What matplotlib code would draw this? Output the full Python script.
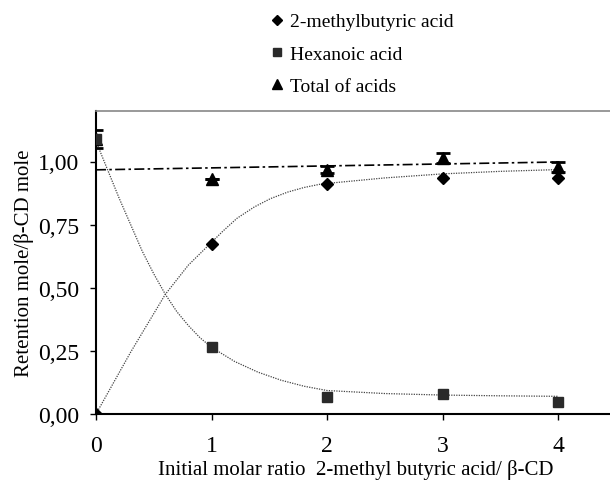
import matplotlib
matplotlib.use("Agg")
import matplotlib.pyplot as plt
from matplotlib.lines import Line2D
from matplotlib.ticker import FuncFormatter

plt.rcParams['font.family'] = ['Liberation Serif', 'DejaVu Serif']

# measured points
ratio = [0, 1, 2, 3, 4]
methylbutyric = [0.0, 0.672, 0.909, 0.936, 0.936]
hexanoic = [1.09, 0.265, 0.067, 0.079, 0.047]
total = [1.09, 0.929, 0.968, 1.014, 0.978]
total_err = [0.035, 0.0, 0.015, 0.02, 0.02]

# fitted curves
methyl_fit_x = [0, 0.3, 0.6, 0.8, 1.0, 1.1, 1.22, 1.37, 1.51, 1.66, 1.8, 1.95, 2.5, 3.0, 3.5, 4.0]
methyl_fit_y = [0.0, 0.245, 0.474, 0.59, 0.68, 0.725, 0.775, 0.82, 0.853, 0.879, 0.897, 0.911, 0.935, 0.951, 0.961, 0.968]
hexan_fit_x = [0, 0.2, 0.4, 0.5, 0.6, 0.7, 0.8, 0.9, 1.0, 1.2, 1.4, 1.6, 1.8, 2.0, 2.5, 3.0, 3.5, 4.0]
hexan_fit_y = [1.08, 0.855, 0.645, 0.555, 0.474, 0.405, 0.35, 0.302, 0.264, 0.208, 0.166, 0.134, 0.11, 0.093, 0.081, 0.075, 0.072, 0.07]

# linear trend of the total
trend_x = [0, 4]
trend_y = [0.967, 0.998]

fig = plt.figure(figsize=(6.1, 4.81), dpi=100)
ax = fig.add_axes([96 / 610, 66 / 481, 520 / 610, 303 / 481])

ax.plot(methyl_fit_x, methyl_fit_y, linestyle=(0, (1, 1)), color='#444444', lw=0.9)
ax.plot(hexan_fit_x, hexan_fit_y, linestyle=(0, (1, 1)), color='#444444', lw=0.9)
ax.plot(trend_x, trend_y, linestyle=(0, (6, 2, 1.5, 2)), color='black', lw=1.2)

ax.errorbar(ratio, total, yerr=total_err, fmt='^', color='black', ms=8,
            capsize=5, elinewidth=1.2, capthick=2, zorder=3)
ax.plot(ratio, hexanoic, 's', color='#2a2a2a', ms=7, zorder=4)
ax.plot(ratio, methylbutyric, 'D', color='black', ms=6, zorder=5)

ax.set_xlim(0, 4.5)
ax.set_ylim(0, 1.2)
ax.set_xticks([0, 1, 2, 3, 4])
ax.set_yticks([0, 0.25, 0.5, 0.75, 1.0])
ax.yaxis.set_major_formatter(FuncFormatter(lambda v, p: f"{v:.2f}".replace('.', ',')))
ax.tick_params(axis='both', direction='out', labelsize=17, width=1, length=4)
ax.tick_params(axis='y', pad=8)
ax.tick_params(axis='x', pad=11)

ax.spines['left'].set_linewidth(1.5)
ax.spines['bottom'].set_linewidth(1.5)
ax.spines['top'].set_color('#888888')
ax.spines['top'].set_linewidth(1.2)
ax.spines['right'].set_visible(False)

ax.set_xlabel("Initial molar ratio  2-methyl butyric acid/ β-CD", fontsize=15, labelpad=2)
ax.set_ylabel("Retention mole/β-CD mole", fontsize=15, labelpad=3)

handles = [
    Line2D([], [], marker='D', color='black', ls='none', ms=5),
    Line2D([], [], marker='s', color='#2a2a2a', ls='none', ms=6),
    Line2D([], [], marker='^', color='black', ls='none', ms=7),
]
labels = ["2-methylbutyric acid", "Hexanoic acid", "Total of acids"]
fig.legend(handles, labels, loc='upper left', bbox_to_anchor=(261 / 610, 1 - 4 / 481),
           frameon=False, fontsize=14, handlelength=0.6, handletextpad=0.4,
           labelspacing=0.75, borderpad=0)

fig.savefig("out.png", dpi=100)
